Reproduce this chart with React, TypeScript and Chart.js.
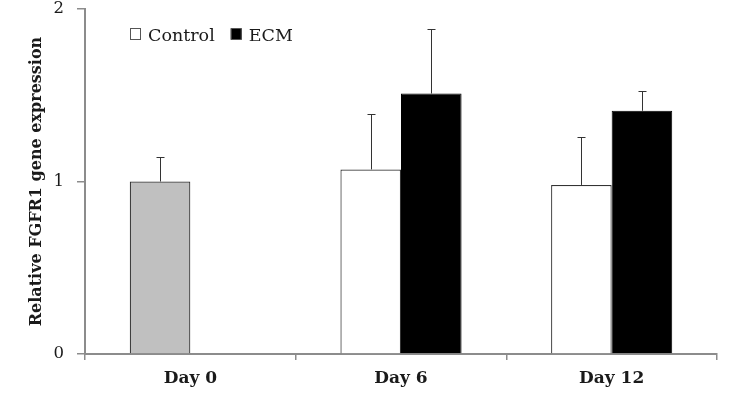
import React, { useEffect, useRef } from 'react';
import { Chart, registerables } from 'chart.js';

Chart.register(...registerables);

const categories = ['Day 0', 'Day 6', 'Day 12'];
const seriesLabels = ['Control', 'ECM'];
const controlValues = [1.0, 1.07, 0.98];
const controlErrors = [0.14, 0.32, 0.28];
const ecmValues = [null, 1.51, 1.41];
const ecmErrors = [null, 0.375, 0.115];
const yTicks = [0, 1, 2];
const yTitle = 'Relative FGFR1 gene expression';

const controlFill = ['#c0c0c0', '#ffffff', '#ffffff'];
const ecmFill = '#000000';
const FONT = "'DejaVu Serif', serif";
const AXIS = '#8c8c8c';

const errorBarPlugin = {
  id: 'errorBars',
  afterDatasetsDraw(chart: any) {
    const ctx = chart.ctx;
    const yScale = chart.scales.y;
    ctx.save();
    ctx.strokeStyle = '#333333';
    ctx.lineWidth = 1;
    chart.data.datasets.forEach((ds: any, di: number) => {
      const meta = chart.getDatasetMeta(di);
      ds.data.forEach((v: any, i: number) => {
        const err = ds.errors[i];
        if (v == null || err == null) return;
        const bar = meta.data[i];
        const x = Math.round(bar.x) + 0.5;
        const yv = yScale.getPixelForValue(v);
        const ye = Math.round(yScale.getPixelForValue(v + err)) + 0.5;
        ctx.beginPath();
        ctx.moveTo(x, yv);
        ctx.lineTo(x, ye);
        ctx.moveTo(x - 4, ye);
        ctx.lineTo(x + 4, ye);
        ctx.stroke();
      });
    });
    ctx.restore();
  },
};

const legendPlugin = {
  id: 'innerLegend',
  afterDraw(chart: any) {
    const ctx = chart.ctx;
    ctx.save();
    ctx.font = `17.5px ${FONT}`;
    ctx.textBaseline = 'alphabetic';
    let x = 130;
    const top = 28.5;
    chart.data.datasets.forEach((ds: any) => {
      ctx.fillStyle = ds.legendFill;
      ctx.fillRect(x, top, 11, 11);
      ctx.strokeStyle = '#555555';
      ctx.lineWidth = 1;
      ctx.strokeRect(x + 0.5, top, 10, 11);
      ctx.fillStyle = '#1a1a1a';
      ctx.fillText(ds.label, x + 18, 41);
      x += 18 + ctx.measureText(ds.label).width + 16;
    });
    ctx.restore();
  },
};

export default function App() {
  const ref = useRef<HTMLCanvasElement>(null);
  useEffect(() => {
    if (!ref.current) return;
    const chart = new Chart(ref.current, {
      type: 'bar',
      data: {
        labels: categories,
        datasets: [
          {
            label: seriesLabels[0],
            data: controlValues,
            errors: controlErrors,
            legendFill: '#ffffff',
            backgroundColor: controlFill,
            borderColor: '#333333',
            borderWidth: 1.2,
            categoryPercentage: 0.575,
            barPercentage: 1.0,
          } as any,
          {
            label: seriesLabels[1],
            data: ecmValues,
            errors: ecmErrors,
            legendFill: ecmFill,
            backgroundColor: ecmFill,
            borderColor: '#000000',
            borderWidth: 1,
            categoryPercentage: 0.575,
            barPercentage: 1.0,
          } as any,
        ],
      },
      options: {
        animation: false,
        responsive: false,
        maintainAspectRatio: false,
        layout: { padding: { left: 0, right: 21, top: 9, bottom: 0 } },
        plugins: {
          legend: { display: false },
          tooltip: { enabled: false },
        },
        scales: {
          x: {
            grid: { drawOnChartArea: false, tickLength: 6, color: AXIS, lineWidth: 1.5 },
            border: { color: AXIS, width: 2 },
            ticks: {
              font: { family: FONT, size: 17, weight: 'bold' },
              color: '#1a1a1a',
              padding: 8,
            },
            afterFit: (s: any) => {
              s.height = 48;
              s.paddingLeft = 0;
              s.paddingRight = 0;
            },
          },
          y: {
            min: 0,
            max: 2,
            afterBuildTicks: (s: any) => {
              s.ticks = yTicks.map((v) => ({ value: v }));
            },
            grid: { drawOnChartArea: false, tickLength: 8, color: AXIS, lineWidth: 1.5 },
            border: { color: AXIS, width: 2 },
            ticks: {
              font: { family: FONT, size: 16.5, lineHeight: 1.1 },
              color: '#1a1a1a',
              padding: 13,
            },
            title: {
              display: true,
              text: yTitle,
              font: { family: FONT, size: 16, weight: 'bold' },
              color: '#1a1a1a',
              padding: { top: 27, bottom: 0 },
            },
            afterFit: (s: any) => {
              s.width = 85;
              s.paddingTop = 0;
              s.paddingBottom = 0;
            },
          },
        },
      } as any,
      plugins: [errorBarPlugin, legendPlugin],
    });
    return () => chart.destroy();
  }, []);
  return (
    <div style={{ position: 'fixed', left: 0, top: 0, width: 738, height: 402, background: '#fff' }}>
      <canvas ref={ref} width={738} height={402} style={{ width: 738, height: 402 }} />
    </div>
  );
}
